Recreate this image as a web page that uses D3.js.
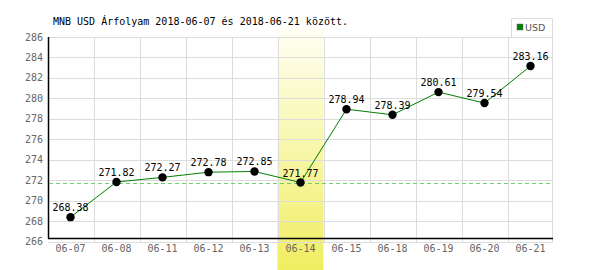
<!DOCTYPE html>
<html><head><meta charset="utf-8">
<script src="https://cdn.jsdelivr.net/npm/d3@7"></script>
<style>body{margin:0;background:#fff;}svg{display:block;}</style>
</head><body>
<svg id="c" width="600" height="270"></svg>
<script>
const categories = ["06-07","06-08","06-11","06-12","06-13","06-14","06-15","06-18","06-19","06-20","06-21"];
const values = [268.38,271.82,272.27,272.78,272.85,271.77,278.94,278.39,280.61,279.54,283.16];
const yTicks = [266,268,270,272,274,276,278,280,282,284,286];
const highlight = "06-14";
const refValue = 271.77;
const title = "MNB USD Árfolyam 2018-06-07 és 2018-06-21 között.";
const seriesName = "USD";

const svg = d3.select("#c");
const mono = "'DejaVu Sans Mono', monospace";
const x = d3.scaleBand().domain(categories).range([47.5, 553.5]);
const y = d3.scaleLinear().domain([266, 286]).range([241.5, 37]);

// highlight gradient
const defs = svg.append("defs");
const g = defs.append("linearGradient").attr("id","hl").attr("x1",0).attr("x2",0).attr("y1",0).attr("y2",1);
g.append("stop").attr("offset","0%").attr("stop-color","#fffff4");
g.append("stop").attr("offset","100%").attr("stop-color","#f0ee60");
svg.append("rect").attr("x", x(highlight)).attr("width", x.bandwidth())
  .attr("y", 28).attr("height", 242).attr("fill","url(#hl)");

// grid
svg.append("g").selectAll("line").data(yTicks).join("line")
  .attr("x1", 48).attr("x2", 553).attr("y1", d=>Math.round(y(d))+0.5).attr("y2", d=>Math.round(y(d))+0.5)
  .attr("stroke","#dcdcdc").attr("stroke-width",1);
svg.append("g").selectAll("line").data(categories.slice(1).concat(["end"])).join("line")
  .attr("x1", d=> d==="end" ? 552.5 : Math.round(x(d))+0.5)
  .attr("x2", d=> d==="end" ? 552.5 : Math.round(x(d))+0.5)
  .attr("y1", 37).attr("y2", 243)
  .attr("stroke","#dcdcdc").attr("stroke-width",1);

// axes lines
svg.append("line").attr("x1",48.5).attr("x2",48.5).attr("y1",37).attr("y2",238.5).attr("stroke","#000").attr("stroke-width",1.5);
svg.append("line").attr("x1",48).attr("x2",553).attr("y1",238.5).attr("y2",238.5).attr("stroke","#000").attr("stroke-width",1.5);

// y labels
svg.append("g").selectAll("text").data(yTicks).join("text")
  .attr("x", 43).attr("y", d=>y(d)).attr("dy","0.35em").attr("text-anchor","end")
  .attr("font-family", mono).attr("font-size", 10).attr("fill","#666").text(d=>d);
// x labels
svg.append("g").selectAll("text").data(categories).join("text")
  .attr("x", d=>x(d)+x.bandwidth()/2).attr("y", 252).attr("text-anchor","middle")
  .attr("font-family", mono).attr("font-size", 10).attr("fill","#666").text(d=>d);

// reference dashed line
svg.append("line").attr("x1",49).attr("x2",552).attr("y1",Math.round(y(refValue))+0.5).attr("y2",Math.round(y(refValue))+0.5)
  .attr("stroke","#6fcf6f").attr("stroke-dasharray","4,3").attr("stroke-width",1);

// line
const pts = categories.map((c,i)=>[x(c)+x.bandwidth()/2, y(values[i])]);
svg.append("path").attr("d", d3.line()(pts)).attr("fill","none").attr("stroke","#008000").attr("stroke-width",1);
svg.append("g").selectAll("circle").data(pts).join("circle")
  .attr("cx", d=>d[0]).attr("cy", d=>d[1]).attr("r", 4.2).attr("fill","#000");
svg.append("g").selectAll("text").data(values).join("text")
  .attr("x", (d,i)=>pts[i][0]).attr("y", (d,i)=>pts[i][1]-6).attr("text-anchor","middle")
  .attr("font-family", mono).attr("font-size", 10).attr("fill","#000").text(d=>d.toFixed(2));

// title
svg.append("text").attr("x",53).attr("y",25).attr("font-family", mono).attr("font-size",10).attr("fill","#000").text(title);

// legend
svg.append("rect").attr("x",511.5).attr("y",18.5).attr("width",41).attr("height",19).attr("fill","#fff").attr("stroke","#dcdcdc");
svg.append("rect").attr("x",517).attr("y",24).attr("width",6).attr("height",6).attr("fill","#008000").attr("stroke","#666").attr("stroke-width",0.5);
svg.append("text").attr("x",525).attr("y",31).attr("font-family","'DejaVu Sans', sans-serif").attr("font-size",9.5).attr("fill","#555").text(seriesName);
</script>
</body></html>
